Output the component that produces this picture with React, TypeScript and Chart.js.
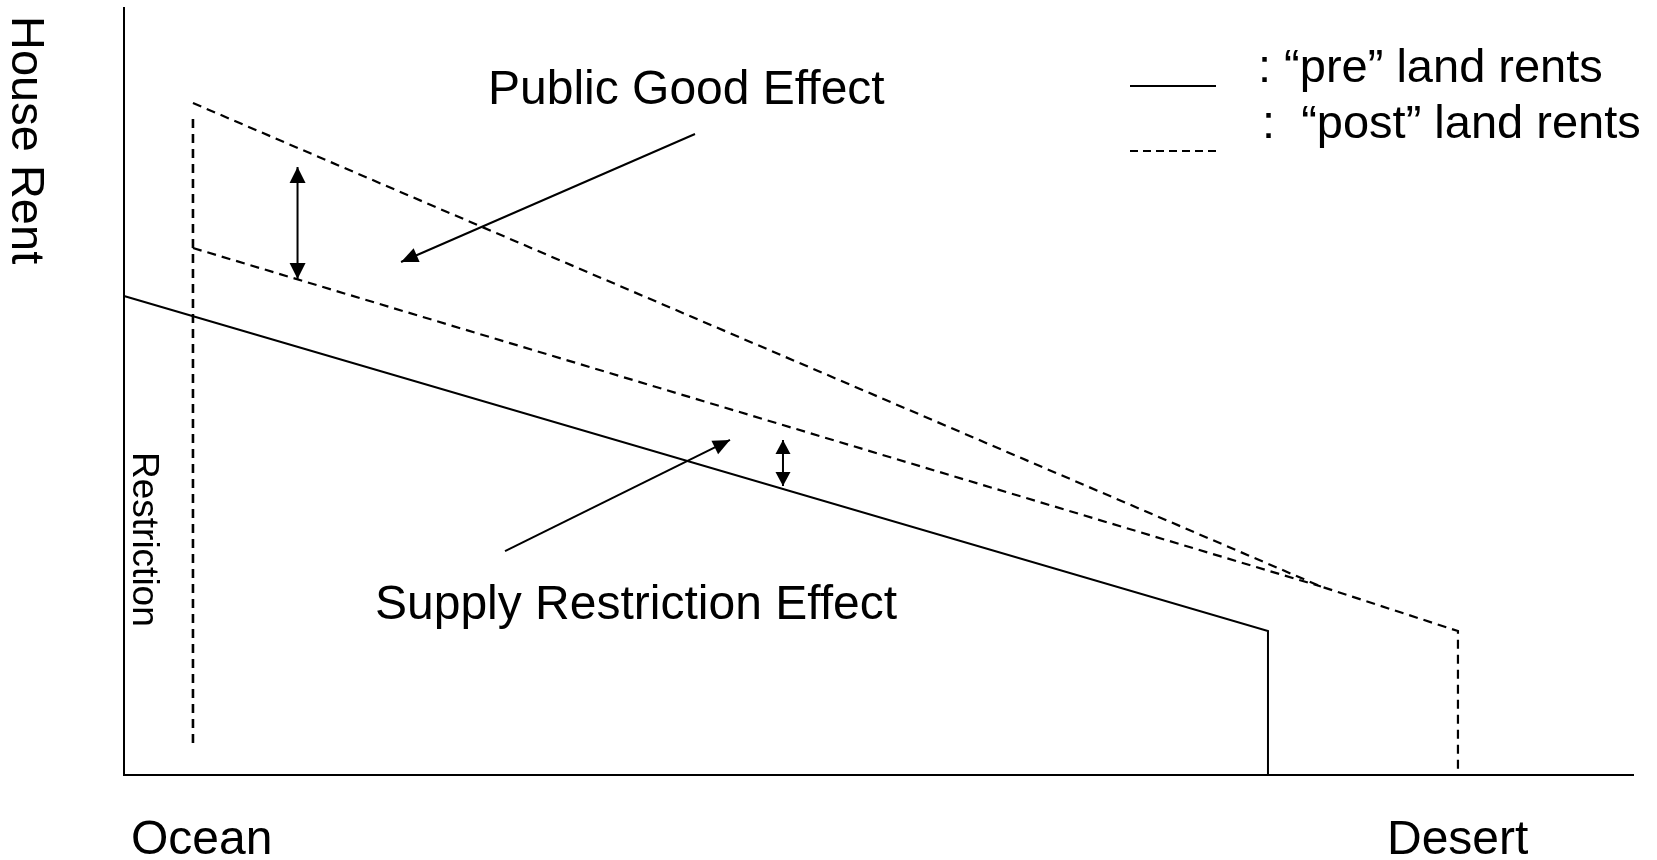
import React, { useEffect, useRef } from "react";
import { Chart, registerables } from "chart.js";

Chart.register(...registerables);

// ---- Data (distance from ocean on x: 0..100, house rent on y: 0..100) ----
const preRent = [
  { x: 0, y: 62.45 },
  { x: 75.81, y: 18.77 },
  { x: 75.81, y: 0 },
];
const postRentHigh = [
  { x: 4.57, y: 87.61 },
  { x: 79.32, y: 24.58 },
  { x: 88.4, y: 18.77 },
  { x: 88.4, y: 0 },
];
const postRentLow = [
  { x: 4.57, y: 68.71 },
  { x: 79.32, y: 24.58 },
];
const restrictionBoundary = [
  { x: 4.57, y: 85.53 },
  { x: 4.57, y: 4.17 },
];
// arrows: [from, to]
const publicGoodGap = [
  { x: 11.5, y: 79.27 },
  { x: 11.5, y: 64.67 },
];
const supplyGap = [
  { x: 43.67, y: 43.68 },
  { x: 43.67, y: 37.68 },
];
const publicGoodPointer = [
  { x: 37.84, y: 83.57 },
  { x: 18.36, y: 66.88 },
];
const supplyPointer = [
  { x: 25.25, y: 29.2 },
  { x: 40.16, y: 43.68 },
];

const legendLabels = [": \u201cpre\u201d land rents", ":  \u201cpost\u201d land rents"];
const effectLabels = ["Public Good Effect", "Supply Restriction Effect"];
const xEndLabels = ["Ocean", "Desert"];
const yAxisLabel = "House Rent";
const restrictionLabel = "Restriction";

const FONT = '"Liberation Sans", Arial, Helvetica, sans-serif';
const DASH = [9, 6];

const W = 1657;
const H = 860;

function drawHead(ctx: CanvasRenderingContext2D, fx: number, fy: number, tx: number, ty: number, len: number, half: number) {
  const a = Math.atan2(ty - fy, tx - fx);
  const bx = tx - Math.cos(a) * len;
  const by = ty - Math.sin(a) * len;
  const px = -Math.sin(a) * half;
  const py = Math.cos(a) * half;
  ctx.beginPath();
  ctx.moveTo(tx, ty);
  ctx.lineTo(bx + px, by + py);
  ctx.lineTo(bx - px, by - py);
  ctx.closePath();
  ctx.fill();
}

const decorPlugin = {
  id: "decor",
  afterDatasetsDraw(chart: any) {
    const ctx: CanvasRenderingContext2D = chart.ctx;
    const xs = chart.scales.x;
    const ys = chart.scales.y;
    const P = (p: { x: number; y: number }) => [xs.getPixelForValue(p.x), ys.getPixelForValue(p.y)];
    ctx.save();
    ctx.fillStyle = "#000";
    ctx.strokeStyle = "#000";

    // arrow heads
    const heads: [any[], boolean, number, number][] = [
      [publicGoodGap, true, 16, 8],
      [supplyGap, true, 14, 7.5],
      [publicGoodPointer, false, 17, 7.5],
      [supplyPointer, false, 17, 7.5],
    ];
    heads.forEach(([pts, both, len, half]) => {
      const [fx, fy] = P(pts[0]);
      const [tx, ty] = P(pts[1]);
      drawHead(ctx, fx, fy, tx, ty, len, half);
      if (both) drawHead(ctx, tx, ty, fx, fy, len, half);
    });

    // texts
    ctx.textBaseline = "alphabetic";
    ctx.textAlign = "left";
    ctx.font = `48px ${FONT}`;
    ctx.fillText(effectLabels[0], 488, 104);
    ctx.fillText(effectLabels[1], 375, 619);
    ctx.fillText(xEndLabels[0], 131, 854);
    ctx.fillText(xEndLabels[1], 1387, 854);

    // legend
    ctx.font = `47px ${FONT}`;
    ctx.fillText(legendLabels[0], 1258, 82);
    ctx.fillText(legendLabels[1], 1262, 138);
    ctx.lineWidth = 2;
    ctx.setLineDash([]);
    ctx.beginPath();
    ctx.moveTo(1130, 86);
    ctx.lineTo(1216, 86);
    ctx.stroke();
    ctx.setLineDash([8, 5]);
    ctx.beginPath();
    ctx.moveTo(1130, 151);
    ctx.lineTo(1216, 151);
    ctx.stroke();
    ctx.setLineDash([]);

    // rotated labels
    ctx.save();
    ctx.translate(12, 16);
    ctx.rotate(Math.PI / 2);
    ctx.font = `47px ${FONT}`;
    ctx.fillText(yAxisLabel, 0, 0);
    ctx.restore();

    ctx.save();
    ctx.translate(133, 452);
    ctx.rotate(Math.PI / 2);
    ctx.font = `37px ${FONT}`;
    ctx.fillText(restrictionLabel, 0, 0);
    ctx.restore();

    ctx.restore();
  },
};

export default function App() {
  const ref = useRef<HTMLCanvasElement | null>(null);
  useEffect(() => {
    if (!ref.current) return;
    const line = (data: any[], dash: number[] | undefined, width = 2) => ({
      data,
      borderColor: "#000",
      backgroundColor: "#000",
      borderWidth: width,
      borderDash: dash || [],
      pointRadius: 0,
      showLine: true,
      fill: false,
      tension: 0,
      clip: false as any,
    });
    const chart = new Chart(ref.current, {
      type: "scatter",
      data: {
        datasets: [
          line(preRent, undefined, 2),
          line(postRentHigh, DASH, 2.2),
          line(postRentLow, DASH, 2.2),
          line(restrictionBoundary, DASH, 2.6),
          line(publicGoodGap, undefined, 2),
          line(supplyGap, undefined, 2),
          line(publicGoodPointer, undefined, 2),
          line(supplyPointer, undefined, 2),
        ],
      },
      options: {
        responsive: false,
        animation: false,
        events: [],
        layout: { padding: { left: 124, right: W - 1633, top: 8, bottom: H - 775 } },
        plugins: { legend: { display: false }, tooltip: { enabled: false } },
        scales: {
          x: {
            type: "linear",
            min: 0,
            max: 100,
            ticks: { display: false },
            grid: { display: false, drawTicks: false },
            border: { display: true, color: "#000", width: 2 },
          },
          y: {
            type: "linear",
            min: 0,
            max: 100,
            ticks: { display: false },
            grid: { display: false, drawTicks: false },
            border: { display: true, color: "#000", width: 2 },
          },
        },
      },
      plugins: [decorPlugin],
    });
    return () => chart.destroy();
  }, []);
  return (
    <div style={{ position: "absolute", left: 0, top: 0, width: W, height: H, background: "#fff" }}>
      <canvas ref={ref} width={W} height={H} style={{ width: W, height: H, display: "block" }} />
    </div>
  );
}
